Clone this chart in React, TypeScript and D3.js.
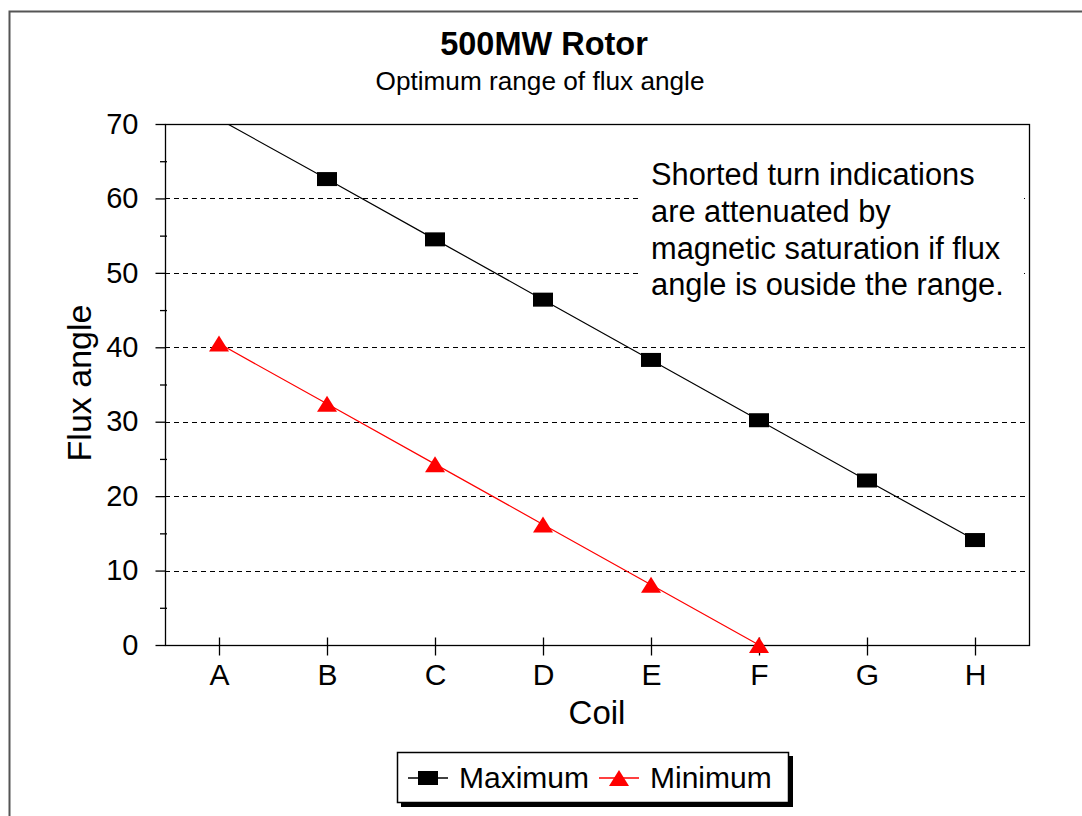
import React, { useRef, useEffect } from "react";
import * as d3 from "d3";

const coils = ["A", "B", "C", "D", "E", "F", "G", "H"];
const maximumValues = [70.65, 62.6, 54.5, 46.4, 38.3, 30.2, 22.1, 14.1];
const minimumValues: (number | null)[] = [40.5, 32.4, 24.3, 16.2, 8.1, 0, null, null];
const yTicks = [0, 10, 20, 30, 40, 50, 60, 70];
const yMinorTicks = [5, 15, 25, 35, 45, 55, 65];
const gridTicks = [10, 20, 30, 40, 50, 60];
const noteLines = [
  "Shorted turn indications",
  "are attenuated by",
  "magnetic saturation if flux",
  "angle is ouside the range.",
];
const legendItems = [
  { name: "Maximum", color: "#000000", shape: "square" },
  { name: "Minimum", color: "#ff0000", shape: "triangle" },
];

const FONT = "'Liberation Sans', Arial, sans-serif";

export default function App() {
  const svgRef = useRef<SVGSVGElement>(null);

  useEffect(() => {
    const width = 1082;
    const height = 816;
    const marginLeft = 165;
    const marginRight = 53;
    const marginTop = 124;
    const plotBottom = 645;

    const x = d3
      .scalePoint<string>()
      .domain(coils)
      .range([marginLeft, width - marginRight])
      .padding(0.5);

    const y = d3.scaleLinear().domain([0, 70]).range([plotBottom, marginTop]);

    const svg = d3.select(svgRef.current);
    svg.selectAll("*").remove();
    svg
      .attr("width", width)
      .attr("height", height)
      .attr("viewBox", [0, 0, width, height].join(" "))
      .style("font-family", FONT);

    svg.append("rect").attr("width", width).attr("height", height).attr("fill", "#fff");

    // outer chart frame (runs off the right/bottom edge)
    svg
      .append("rect")
      .attr("x", 9.5)
      .attr("y", 11.5)
      .attr("width", width + 20)
      .attr("height", height + 20)
      .attr("fill", "none")
      .attr("stroke", "#555")
      .attr("stroke-width", 2);

    // titles
    svg
      .append("text")
      .attr("x", 544)
      .attr("y", 55)
      .attr("text-anchor", "middle")
      .attr("font-size", 32.5)
      .attr("font-weight", "bold")
      .text("500MW Rotor");
    svg
      .append("text")
      .attr("x", 540)
      .attr("y", 90)
      .attr("text-anchor", "middle")
      .attr("font-size", 26.2)
      .text("Optimum range of flux angle");

    const plotRight = width - marginRight;

    // gridlines
    svg
      .append("g")
      .attr("shape-rendering", "crispEdges")
      .selectAll("line")
      .data(gridTicks)
      .join("line")
      .attr("x1", marginLeft)
      .attr("x2", plotRight)
      .attr("y1", (d) => Math.round(y(d)) + 0.5)
      .attr("y2", (d) => Math.round(y(d)) + 0.5)
      .attr("stroke", "#000")
      .attr("stroke-width", 1)
      .attr("stroke-dasharray", "5,4");

    // annotation box covering the grid
    svg
      .append("rect")
      .attr("x", 642)
      .attr("y", 150)
      .attr("width", 382)
      .attr("height", 160)
      .attr("fill", "#fff");
    svg
      .append("g")
      .selectAll("text")
      .data(noteLines)
      .join("text")
      .attr("x", 651)
      .attr("y", (d, i) => 185 + i * 36.8)
      .attr("font-size", 30.8)
      .text((d) => d);

    // plot frame
    svg
      .append("rect")
      .attr("x", marginLeft + 0.5)
      .attr("y", marginTop + 0.5)
      .attr("width", plotRight - marginLeft)
      .attr("height", plotBottom - marginTop)
      .attr("fill", "none")
      .attr("stroke", "#000")
      .attr("stroke-width", 1.3);

    // y axis
    svg
      .append("g")
      .attr("transform", `translate(${marginLeft + 0.5},0)`)
      .call(d3.axisLeft(y).tickValues(yTicks).tickSize(10).tickPadding(17))
      .call((g) => g.select(".domain").remove())
      .call((g) => g.selectAll(".tick line").attr("stroke-width", 1.3))
      .call((g) =>
        g
          .selectAll(".tick text")
          .attr("font-size", 29)
          .attr("font-family", FONT)
          .attr("fill", "#000")
      );

    svg
      .append("g")
      .selectAll("line")
      .data(yMinorTicks)
      .join("line")
      .attr("x1", marginLeft - 5)
      .attr("x2", marginLeft + 2)
      .attr("y1", (d) => y(d) + 0.5)
      .attr("y2", (d) => y(d) + 0.5)
      .attr("stroke", "#000")
      .attr("stroke-width", 1.3);

    // x axis
    svg
      .append("g")
      .attr("transform", `translate(0,${plotBottom + 0.5})`)
      .call(d3.axisBottom(x).tickSize(10).tickPadding(8))
      .call((g) => g.select(".domain").remove())
      .call((g) => g.selectAll(".tick line").attr("y1", -8).attr("stroke-width", 1.3))
      .call((g) =>
        g
          .selectAll(".tick text")
          .attr("font-size", 30)
          .attr("font-family", FONT)
          .attr("fill", "#000")
      );

    // axis titles
    svg
      .append("text")
      .attr("x", 597)
      .attr("y", 724)
      .attr("text-anchor", "middle")
      .attr("font-size", 33)
      .text("Coil");
    svg
      .append("text")
      .attr("transform", "translate(91,383) rotate(-90)")
      .attr("text-anchor", "middle")
      .attr("font-size", 34)
      .text("Flux angle");

    // series
    svg
      .append("defs")
      .append("clipPath")
      .attr("id", "plot-clip")
      .append("rect")
      .attr("x", marginLeft)
      .attr("y", marginTop)
      .attr("width", plotRight - marginLeft)
      .attr("height", plotBottom - marginTop + 10);

    const maxData = coils.map((c, i) => ({ c, v: maximumValues[i] }));
    const minData = coils
      .map((c, i) => ({ c, v: minimumValues[i] }))
      .filter((d) => d.v !== null) as { c: string; v: number }[];

    const line = d3
      .line<{ c: string; v: number }>()
      .x((d) => x(d.c) as number)
      .y((d) => y(d.v));

    const lines = svg.append("g").attr("clip-path", "url(#plot-clip)");
    lines
      .append("path")
      .attr("d", line(maxData))
      .attr("fill", "none")
      .attr("stroke", "#000")
      .attr("stroke-width", 1.2);
    lines
      .append("path")
      .attr("d", line(minData))
      .attr("fill", "none")
      .attr("stroke", "#ff0000")
      .attr("stroke-width", 1.2);

    // points beyond the axis range get no marker
    const inRange = (d: { v: number }) => d.v <= 70 && d.v >= 0;

    svg
      .append("g")
      .selectAll("rect")
      .data(maxData.filter(inRange))
      .join("rect")
      .attr("x", (d) => (x(d.c) as number) - 10)
      .attr("y", (d) => y(d.v) - 7)
      .attr("width", 20)
      .attr("height", 14)
      .attr("fill", "#000");

    svg
      .append("g")
      .selectAll("path")
      .data(minData.filter(inRange))
      .join("path")
      .attr("d", "M0,-8L10,8L-10,8Z")
      .attr("transform", (d) => `translate(${x(d.c)},${y(d.v)})`)
      .attr("fill", "#ff0000");

    // legend
    const legend = svg.append("g");
    legend
      .append("rect")
      .attr("x", 401)
      .attr("y", 756)
      .attr("width", 392)
      .attr("height", 51)
      .attr("fill", "#000");
    legend
      .append("rect")
      .attr("x", 397.5)
      .attr("y", 752.5)
      .attr("width", 391)
      .attr("height", 50)
      .attr("fill", "#fff")
      .attr("stroke", "#000")
      .attr("stroke-width", 1.5);

    const itemX = [408, 599];
    const item = legend
      .selectAll("g.item")
      .data(legendItems)
      .join("g")
      .attr("class", "item")
      .attr("transform", (d, i) => `translate(${itemX[i]},778)`);
    item
      .append("line")
      .attr("x1", 0)
      .attr("x2", 40)
      .attr("stroke", (d) => d.color)
      .attr("stroke-width", 1.3);
    item
      .append("path")
      .attr("d", (d) =>
        d.shape === "square" ? "M10,-7H30V7H10Z" : "M20,-8L30,8L10,8Z"
      )
      .attr("fill", (d) => d.color);
    item
      .append("text")
      .attr("x", 51)
      .attr("y", 10)
      .attr("font-size", 30)
      .text((d) => d.name);
  }, []);

  return (
    <div style={{ position: "absolute", left: 0, top: 0 }}>
      <svg ref={svgRef} style={{ display: "block" }}></svg>
    </div>
  );
}
